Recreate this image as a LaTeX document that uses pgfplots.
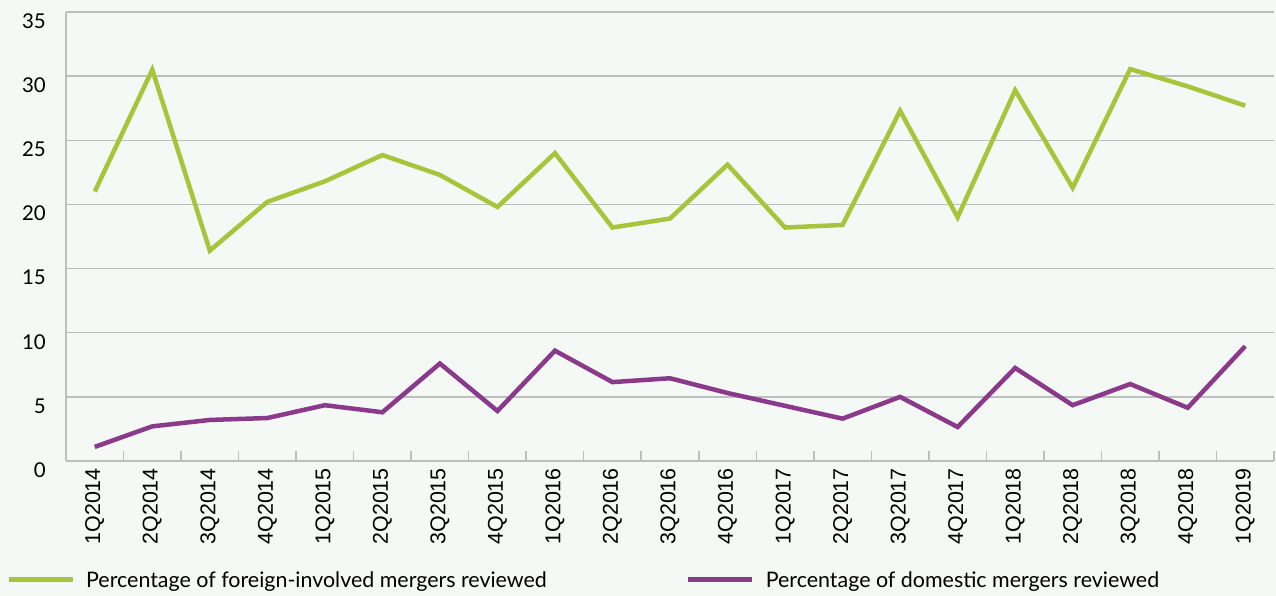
\documentclass[border=0pt]{standalone}
\usepackage{pgfplots}
\pgfplotsset{compat=1.18}
\usepackage{fontspec}
\setmainfont{Lato}
\newfontfamily\arialfont{Liberation Sans}
\definecolor{bgcol}{HTML}{F4F9F5}
\definecolor{foreign}{HTML}{A8C43A}
\definecolor{domestic}{HTML}{8B3A8B}
\definecolor{gridcol}{HTML}{BDBFBF}
\begin{document}
\begin{tikzpicture}
  \path[use as bounding box, fill=bgcol] (-66bp,-135bp) rectangle (1210bp,461bp);
  \begin{axis}[
      scale only axis,
      width=1208bp, height=449bp,
      xmin=-0.5, xmax=20.5,
      ymin=0, ymax=35,
      axis x line*=bottom, axis y line*=left,
      axis line style={draw=gridcol, line width=1.5bp, -},
      xtick={0,...,20},
      xticklabels={1Q2014,2Q2014,3Q2014,4Q2014,1Q2015,2Q2015,3Q2015,4Q2015,1Q2016,2Q2016,3Q2016,4Q2016,1Q2017,2Q2017,3Q2017,4Q2017,1Q2018,2Q2018,3Q2018,4Q2018,1Q2019},
      minor xtick={-0.5,0.5,...,20.5},
      major x tick style={draw=none},
      minor x tick style={draw=gridcol, line width=1.5bp},
      tick align=inside,
      minor tick length=10bp,
      ytick={0,5,...,35},
      ytick style={draw=none},
      ymajorgrids,
      grid style={draw=gridcol, line width=1.5bp},
      tick label style={text=black},
      xticklabel style={font=\arialfont\fontsize{21.5}{23}\selectfont,
        rotate=90, anchor=east, inner sep=0pt, xshift=-7bp},
      yticklabel style={font=\fontsize{20.5}{22}\selectfont,
        anchor=east, inner sep=0pt, xshift=-20bp, yshift=-9bp},
      /pgf/number format/assume math mode=true,
      legend columns=2,
      legend style={draw=none, fill=none, inner sep=0pt,
        at={(axis description cs:-0.0497,-0.265)}, anchor=west,
        font=\fontsize{21.5}{23}\selectfont,
        /tikz/every odd column/.append style={column sep=9bp},
        /tikz/every even column/.append style={column sep=137bp}},
      legend image code/.code={\draw[#1, line width=5bp] (0bp,0bp) -- (64bp,0bp);},
    ]
    \addplot[foreign, line width=4.5bp] coordinates {
      (0,21.0) (1,30.5) (2,16.4) (3,20.2) (4,21.8) (5,23.85) (6,22.3)
      (7,19.8) (8,24.0) (9,18.2) (10,18.9) (11,23.1) (12,18.2) (13,18.4)
      (14,27.3) (15,19.0) (16,28.9) (17,21.3) (18,30.55) (19,29.2) (20,27.7)
    };
    \addlegendentry{Percentage of foreign-involved mergers reviewed}
    \addplot[domestic, line width=4.5bp] coordinates {
      (0,1.1) (1,2.7) (2,3.2) (3,3.35) (4,4.35) (5,3.8) (6,7.6)
      (7,3.9) (8,8.6) (9,6.15) (10,6.45) (11,5.3) (12,4.3) (13,3.3)
      (14,5.0) (15,2.65) (16,7.25) (17,4.35) (18,6.0) (19,4.15) (20,8.95)
    };
    \addlegendentry{Percentage of domestic mergers reviewed}
  \end{axis}
\end{tikzpicture}
\end{document}
